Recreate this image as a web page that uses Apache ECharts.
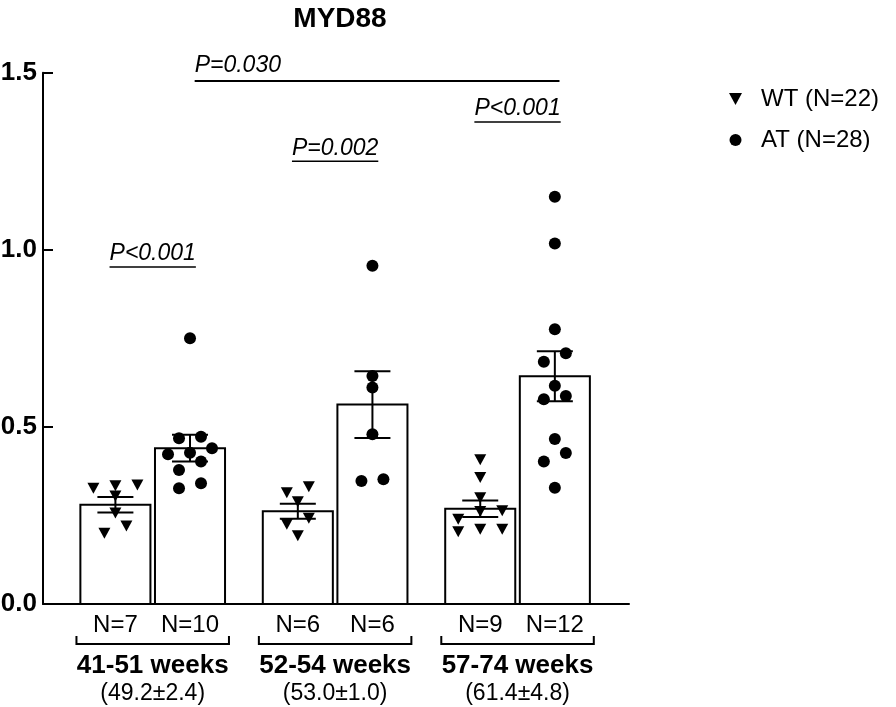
<!DOCTYPE html>
<html><head><meta charset="utf-8">
<script src="https://cdn.jsdelivr.net/npm/echarts@6/dist/echarts.min.js"></script>
<style>html,body{margin:0;padding:0;background:#fff}#c{width:896px;height:707px}</style>
</head><body><div id="c"></div>
<script>
// ---------- data ----------
const groups = ['41-51 weeks', '52-54 weeks', '57-74 weeks'];
const groupSub = ['(49.2\u00b12.4)', '(53.0\u00b11.0)', '(61.4\u00b14.8)'];
const seriesNames = ['WT (N=22)', 'AT (N=28)'];
const wtN = ['N=7', 'N=6', 'N=9'];
const atN = ['N=10', 'N=6', 'N=12'];
const wtMean = [0.280, 0.262, 0.269];
const wtSem = [0.022, 0.021, 0.0235];
const atMean = [0.440, 0.563, 0.643];
const atSem = [0.038, 0.094, 0.0705];
const wtPoints = [
  [0.336, 0.334, 0.327, 0.305, 0.257, 0.220, 0.200],
  [0.331, 0.314, 0.289, 0.242, 0.225, 0.193],
  [0.407, 0.357, 0.300, 0.263, 0.261, 0.239, 0.211, 0.211, 0.204]
];
const atPoints = [
  [0.750, 0.472, 0.468, 0.440, 0.427, 0.423, 0.402, 0.378, 0.341, 0.327],
  [0.955, 0.644, 0.611, 0.479, 0.352, 0.347],
  [1.150, 1.018, 0.776, 0.708, 0.684, 0.616, 0.587, 0.578, 0.466, 0.426, 0.402, 0.328]
];
const pLabels = ['P<0.001', 'P=0.002', 'P<0.001'];
const pOverall = 'P=0.030';
const yTicks = [0, 0.5, 1.0, 1.5];

// ---------- layout constants ----------
const FONT = "'Liberation Sans', Arial, Helvetica, sans-serif";
const PAIR = 0.2045, BARW = 0.384, CAP = 36;
const pLevels = [0.988, 1.287, 1.3975];       // text centre (value units)
const overall = { from: 0.23, to: 2.23, line: 1.4766, text: 1.519 };
const bx = (g, s) => g + (s === 0 ? -PAIR : PAIR);

const ctx = document.createElement('canvas').getContext('2d');
function textW(t, font) { ctx.font = font; return ctx.measureText(t).width; }

const chart = echarts.init(document.getElementById('c'));

const barData = [];
for (let g = 0; g < groups.length; g++) {
  barData.push([g, 0, wtMean[g], wtSem[g]]);
  barData.push([g, 1, atMean[g], atSem[g]]);
}

const black = '#000';
const option = {
  animation: false,
  backgroundColor: '#fff',
  title: { text: 'MYD88', left: 335, top: 0, textAlign: 'center',
    textStyle: { fontFamily: FONT, fontSize: 28, fontWeight: 'bold', color: black } },
  legend: {
    orient: 'vertical', left: 724, top: 82, itemWidth: 13, itemHeight: 12, itemGap: 17,
    textStyle: { fontFamily: FONT, fontSize: 24, color: black, padding: [0, 0, 0, 14] },
    data: [{ name: seriesNames[0], icon: 'path://M0,0L12,0L6,11Z' }, { name: seriesNames[1], icon: 'circle' }],
    itemStyle: { color: black, opacity: 1 }
  },
  grid: { left: 43, right: 267, top: 72.7, bottom: 103, containLabel: false, outerBoundsMode: 'none' },
  xAxis: {
    type: 'value', min: -0.6014, max: 2.611,
    axisLine: { show: true, onZero: false, lineStyle: { color: black, width: 2 } },
    axisTick: { show: false }, axisLabel: { show: false }, splitLine: { show: false }
  },
  yAxis: {
    type: 'value', min: 0, max: 1.5, interval: 0.5,
    axisLine: { show: true, onZero: false, lineStyle: { color: black, width: 2 } },
    axisTick: { show: true, inside: true, length: 10, lineStyle: { color: black, width: 2 } },
    axisLabel: { margin: 6, fontFamily: FONT, fontSize: 26, fontWeight: 'bold', color: black,
      formatter: v => yTicks.includes(v) ? v.toFixed(1) : '' },
    splitLine: { show: false }
  },
  series: [
    {
      type: 'custom', name: 'bars', z: 2, clip: false, data: barData, silent: true,
      renderItem: (params, api) => {
        const g = api.value(0), s = api.value(1), m = api.value(2), e = api.value(3);
        const cx = bx(g, s);
        const p0 = api.coord([cx, 0]), pm = api.coord([cx, m]);
        const pt = api.coord([cx, m + e]), pb = api.coord([cx, m - e]);
        const w = api.size([BARW, 0])[0];
        const ls = { stroke: black, lineWidth: 2 };
        return { type: 'group', children: [
          { type: 'rect', shape: { x: p0[0] - w / 2, y: pm[1], width: w, height: p0[1] - pm[1] },
            style: { fill: '#fff', stroke: black, lineWidth: 2 } },
          { type: 'line', shape: { x1: pt[0], y1: pt[1], x2: pb[0], y2: pb[1] }, style: ls },
          { type: 'line', shape: { x1: pt[0] - CAP / 2, y1: pt[1], x2: pt[0] + CAP / 2, y2: pt[1] }, style: ls },
          { type: 'line', shape: { x1: pb[0] - CAP / 2, y1: pb[1], x2: pb[0] + CAP / 2, y2: pb[1] }, style: ls },
          { type: 'text', x: p0[0], y: p0[1] + 21,
            style: { text: (s === 0 ? wtN : atN)[g], fill: black, font: '24px ' + FONT, align: 'center', verticalAlign: 'middle' } }
        ] };
      }
    },
    {
      type: 'custom', name: 'groupLabels', z: 2, clip: false, silent: true,
      data: groups.map((_, g) => [g]),
      renderItem: (params, api) => {
        const g = api.value(0);
        const l = api.coord([g - 0.418, 0]), r = api.coord([g + 0.418, 0]), c = api.coord([g, 0]);
        const y = l[1];
        return { type: 'group', children: [
          { type: 'polyline', shape: { points: [[l[0], y + 32], [l[0], y + 40], [r[0], y + 40], [r[0], y + 32]] },
            style: { stroke: black, lineWidth: 2, fill: null } },
          { type: 'text', x: c[0], y: y + 62,
            style: { text: groups[g], fill: black, font: 'bold 26px ' + FONT, align: 'center', verticalAlign: 'middle' } },
          { type: 'text', x: c[0], y: y + 90,
            style: { text: groupSub[g], fill: black, font: '23px ' + FONT, align: 'center', verticalAlign: 'middle' } }
        ] };
      }
    },
    {
      type: 'custom', name: 'pvalues', z: 3, clip: false, silent: true,
      data: pLabels.map((_, g) => [g, pLevels[g]]),
      renderItem: (params, api) => {
        const g = api.value(0);
        const p = api.coord([g, api.value(1)]);
        const f = 'italic 23px ' + FONT;
        const w = textW(pLabels[g], f);
        return { type: 'group', children: [
          { type: 'text', x: p[0], y: p[1],
            style: { text: pLabels[g], fill: black, font: f, align: 'center', verticalAlign: 'middle' } },
          { type: 'line', shape: { x1: p[0] - w / 2, y1: p[1] + 13, x2: p[0] + w / 2, y2: p[1] + 13 },
            style: { stroke: black, lineWidth: 1.5 } }
        ] };
      }
    },
    {
      type: 'custom', name: 'overall', z: 3, clip: false, silent: true,
      data: [[overall.from, overall.to, overall.line, overall.text]],
      renderItem: (params, api) => {
        const a = api.coord([api.value(0), api.value(2)]), b = api.coord([api.value(1), api.value(2)]);
        const t = api.coord([api.value(0), api.value(3)]);
        return { type: 'group', children: [
          { type: 'line', shape: { x1: a[0], y1: a[1], x2: b[0], y2: b[1] }, style: { stroke: black, lineWidth: 2 } },
          { type: 'text', x: t[0], y: t[1],
            style: { text: pOverall, fill: black, font: 'italic 23px ' + FONT, align: 'left', verticalAlign: 'middle' } }
        ] };
      }
    },
    { type: 'scatter', name: seriesNames[0], z: 5, data: [], symbol: 'triangle', symbolRotate: 180,
      symbolSize: [12, 11], itemStyle: { color: black, opacity: 1 }, silent: true },
    { type: 'scatter', name: seriesNames[1], z: 5, data: [], symbol: 'circle',
      symbolSize: 12, itemStyle: { color: black, opacity: 1 }, silent: true }
  ]
};
chart.setOption(option);

// ---------- beeswarm layout (computed in pixels via the axes) ----------
const o = chart.convertToPixel({ gridIndex: 0 }, [0, 0]);
const u = chart.convertToPixel({ gridIndex: 0 }, [1, 1]);
const kx = u[0] - o[0], ky = o[1] - u[1];
const STEP = 22, BIN = 9;
function swarm(vals, cx) {
  const sorted = vals.slice().sort((a, b) => b - a);
  const out = [];
  let i = 0;
  while (i < sorted.length) {
    const row = [sorted[i]];
    let j = i + 1;
    while (j < sorted.length && (sorted[i] - sorted[j]) * ky < BIN) { row.push(sorted[j]); j++; }
    row.sort((a, b) => a - b);
    row.forEach((v, k) => {
      const off = (k - (row.length - 1) / 2) * STEP;
      out.push([cx + off / kx, v]);
    });
    i = j;
  }
  return out;
}
const wtData = [], atData = [];
for (let g = 0; g < groups.length; g++) {
  wtData.push(...swarm(wtPoints[g], bx(g, 0)));
  atData.push(...swarm(atPoints[g], bx(g, 1)));
}
chart.setOption({ series: [{}, {}, {}, {}, { data: wtData }, { data: atData }] });
</script></body></html>
